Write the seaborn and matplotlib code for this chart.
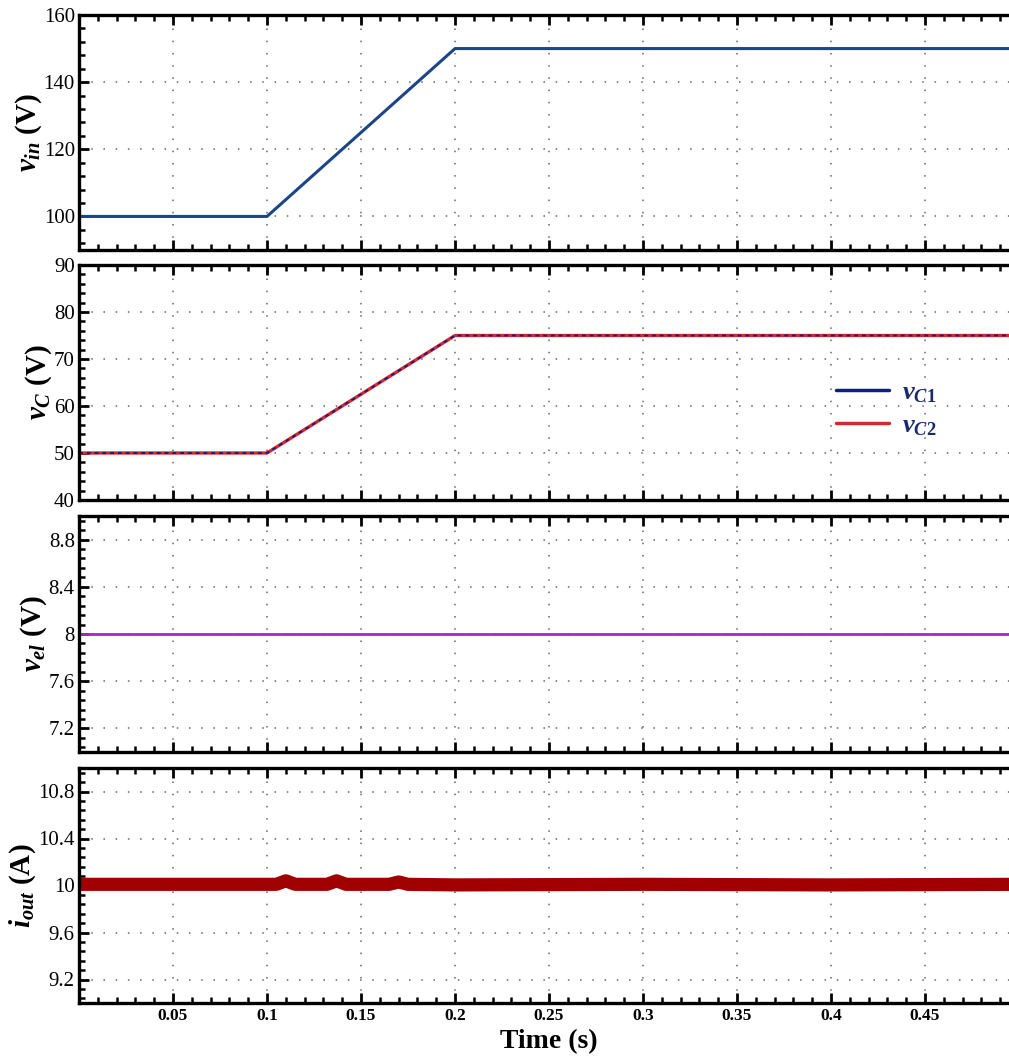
import matplotlib
matplotlib.use("Agg")
import matplotlib.pyplot as plt
import seaborn as sns
import numpy as np
from matplotlib.ticker import AutoMinorLocator, MultipleLocator
from matplotlib.lines import Line2D

# ---- data ----
t_ramp = [0.0, 0.1, 0.2, 0.5]
v_in = [100, 100, 150, 150]
v_c1 = [50, 50, 75, 75]
v_c2 = [50, 50, 75, 75]
t_el = [0.0, 0.5]
v_el = [8.0, 8.0]
t_out = [0.0, 0.105, 0.11, 0.115, 0.132, 0.137, 0.142, 0.165, 0.17, 0.175,
         0.2, 0.3, 0.4, 0.5]
i_out = [10.01, 10.01, 10.04, 10.01, 10.01, 10.04, 10.01, 10.01, 10.03, 10.01,
         10.005, 10.01, 10.005, 10.01]

xtick_vals = [0.05, 0.1, 0.15, 0.2, 0.25, 0.3, 0.35, 0.4, 0.45]
xtick_labels = ["0.05", "0.1", "0.15", "0.2", "0.25", "0.3", "0.35", "0.4", "0.45"]

sns.set_style("white")
plt.rcParams["font.family"] = ["Liberation Serif", "DejaVu Serif"]
plt.rcParams["text.color"] = "black"
plt.rcParams["axes.labelcolor"] = "black"
plt.rcParams["xtick.color"] = "black"
plt.rcParams["ytick.color"] = "black"
plt.rcParams["mathtext.fontset"] = "custom"
plt.rcParams["mathtext.rm"] = "Liberation Serif:bold"
plt.rcParams["mathtext.it"] = "Liberation Serif:italic:bold"
plt.rcParams["mathtext.bf"] = "Liberation Serif:bold"

fig = plt.figure(figsize=(10.09, 10.62), dpi=100)
left, width = 79 / 1009, 940 / 1009
panels = [(15, 250), (265, 500), (516, 752), (768, 1003)]
axes = []
for top, bot in panels:
    axes.append(fig.add_axes([left, 1 - bot / 1062, width, (bot - top) / 1062]))


def style(ax, ylim, yticks, ylabel, bottom=False):
    ax.set_xlim(0, 0.5)
    ax.set_ylim(*ylim)
    ax.set_yticks(yticks)
    ax.set_yticklabels([f"{v:g}" for v in yticks], fontsize=15)
    ax.xaxis.set_major_locator(MultipleLocator(0.05))
    ax.xaxis.set_minor_locator(AutoMinorLocator(5))
    ax.yaxis.set_minor_locator(AutoMinorLocator(5))
    ax.tick_params(which="both", direction="in", top=True, right=True,
                   left=True, bottom=True)
    ax.tick_params(which="major", length=7, width=2)
    ax.tick_params(which="minor", length=4, width=1.8)
    ax.tick_params(axis="y", which="major", pad=3)
    for s in ax.spines.values():
        s.set_linewidth(2.4)
        s.set_color("black")
    ax.grid(True, which="major", linestyle=(0, (1, 7)), color="#666666",
            linewidth=1.1)
    ax.set_ylabel(ylabel, fontsize=21, fontweight="bold", labelpad=0)
    if bottom:
        ax.set_xticks(xtick_vals)
        ax.set_xticklabels(xtick_labels, fontsize=12.5, fontweight="bold")
        ax.set_xlabel("Time (s)", fontsize=20, fontweight="bold", labelpad=4)
        ax.xaxis.set_minor_locator(AutoMinorLocator(5))
    else:
        ax.set_xticklabels([])
        ax.set_xlabel("")


ax1, ax2, ax3, ax4 = axes

sns.lineplot(x=t_ramp, y=v_in, ax=ax1, color="#1c4587", linewidth=2.2)
style(ax1, (90, 160), [100, 120, 140, 160], r"$v_{in}$ (V)")

sns.lineplot(x=t_ramp, y=v_c2, ax=ax2, color="#d42a2a", linewidth=2.4)
sns.lineplot(x=t_ramp, y=v_c1, ax=ax2, color="#1a1a8c", linewidth=1.4,
             linestyle=(0, (2, 2)))
style(ax2, (40, 90), [40, 50, 60, 70, 80, 90], r"$v_C$ (V)")
handles = [Line2D([], [], color="#0f1f7a", linewidth=2.5),
           Line2D([], [], color="#d42a2a", linewidth=2.5)]
leg = ax2.legend(handles, [r"$v_{C1}$", r"$v_{C2}$"], loc="center left",
                 bbox_to_anchor=(0.78, 0.385), frameon=False, fontsize=19,
                 handlelength=2.0, handletextpad=0.5, labelspacing=0.35)
for txt in leg.get_texts():
    txt.set_color("#1a2a6a")

sns.lineplot(x=t_el, y=v_el, ax=ax3, color="#a626c9", linewidth=2.0)
style(ax3, (7.0, 9.0), [7.2, 7.6, 8.0, 8.4, 8.8], r"$v_{el}$ (V)")

sns.lineplot(x=t_out, y=i_out, ax=ax4, color="#a00000", linewidth=9.5)
style(ax4, (9.0, 11.0), [9.2, 9.6, 10.0, 10.4, 10.8], r"$i_{out}$ (A)",
      bottom=True)

fig.savefig("out.png", dpi=100, facecolor="white")
